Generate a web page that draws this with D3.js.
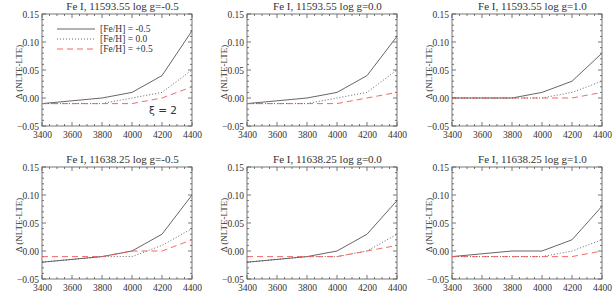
<!DOCTYPE html>
<html>
<head>
<meta charset="utf-8">
<script src="https://cdn.jsdelivr.net/npm/d3@7"></script>
<style>
  body { margin: 0; background: #fff; }
  svg { display: block; }
</style>
</head>
<body>
<svg id="chart" width="614" height="307"></svg>
<script>
'use strict';

// effective temperatures on the x axis
const teff = [3400, 3600, 3800, 4000, 4200, 4400];
const xTicks = [3400, 3600, 3800, 4000, 4200, 4400];
const yTicks = [-0.05, 0.00, 0.05, 0.10, 0.15];

const titles = [
  'Fe I, 11593.55 log g=-0.5', 'Fe I, 11593.55 log g=0.0', 'Fe I, 11593.55 log g=1.0',
  'Fe I, 11638.25 log g=-0.5', 'Fe I, 11638.25 log g=0.0', 'Fe I, 11638.25 log g=1.0'
];

const legendLabels = ['[Fe/H] = -0.5', '[Fe/H] = 0.0', '[Fe/H] = +0.5'];

// Δ(NLTE-LTE) per panel, for [Fe/H] = -0.5, 0.0, +0.5
const feM05 = [
  [-0.01, -0.005, 0.00, 0.01, 0.04, 0.12],
  [-0.01, -0.005, 0.00, 0.01, 0.04, 0.11],
  [0.00, 0.00, 0.00, 0.01, 0.03, 0.08],
  [-0.02, -0.015, -0.01, 0.00, 0.03, 0.10],
  [-0.02, -0.015, -0.01, 0.00, 0.03, 0.09],
  [-0.01, -0.005, 0.00, 0.00, 0.02, 0.08]
];
const fe00 = [
  [-0.01, -0.01, -0.01, 0.00, 0.01, 0.05],
  [-0.01, -0.01, -0.01, 0.00, 0.01, 0.05],
  [0.00, 0.00, 0.00, 0.00, 0.01, 0.03],
  [-0.02, -0.015, -0.01, -0.01, 0.01, 0.04],
  [-0.02, -0.015, -0.01, -0.01, 0.00, 0.03],
  [-0.01, -0.01, -0.01, -0.01, 0.00, 0.02]
];
const feP05 = [
  [-0.01, -0.01, -0.01, -0.01, 0.00, 0.02],
  [-0.01, -0.01, -0.01, -0.01, 0.00, 0.01],
  [0.00, 0.00, 0.00, 0.00, 0.00, 0.01],
  [-0.01, -0.01, -0.01, 0.00, 0.00, 0.02],
  [-0.01, -0.01, -0.01, -0.01, 0.00, 0.01],
  [-0.01, -0.01, -0.01, -0.01, -0.01, 0.00]
];

const series = [feM05, fe00, feP05];
const styles = [
  { stroke: '#555', dash: null },
  { stroke: '#555', dash: '1,2' },
  { stroke: '#f05a5a', dash: '6,4' }
];

// panel frames
const lefts = [42, 247, 452],
      tops = [14, 167],
      width = 150,
      height = 112;

const serif = 'Liberation Serif';

const svg = d3.select('#chart');

titles.forEach((title, i) => {
  const col = i % 3, row = Math.floor(i / 3);

  const g = svg.append('g')
     .attr('transform', `translate(${lefts[col]}, ${tops[row]})`);

  const x = d3.scaleLinear().domain([3400, 4400]).range([0, width]);
  const y = d3.scaleLinear().domain([-0.05, 0.15]).range([height, 0]);

  // minor ticks on all four sides, IDL style
  const xMinor = d3.range(3400, 4401, 50);
  const yMinor = d3.range(-5, 16).map(v => v / 100);

  const tickGroup = g.append('g').attr('stroke', '#555').attr('stroke-width', 0.8);
  xMinor.forEach(v => {
    const len = xTicks.includes(v) ? 4 : 2;
    tickGroup.append('line').attr('x1', x(v)).attr('x2', x(v)).attr('y1', height).attr('y2', height - len);
    tickGroup.append('line').attr('x1', x(v)).attr('x2', x(v)).attr('y1', 0).attr('y2', len);
  });
  yMinor.forEach(v => {
    const len = Math.round(v * 100) % 5 === 0 ? 4 : 2;
    tickGroup.append('line').attr('y1', y(v)).attr('y2', y(v)).attr('x1', 0).attr('x2', len);
    tickGroup.append('line').attr('y1', y(v)).attr('y2', y(v)).attr('x1', width).attr('x2', width - len);
  });

  // axis labels
  const xAxis = d3.axisBottom(x).tickValues(xTicks).tickSize(0).tickPadding(5).tickFormat(d3.format('d'));
  const yAxis = d3.axisLeft(y).tickValues(yTicks).tickSize(0).tickPadding(3).tickFormat(d3.format('.2f'));

  g.append('g')
     .attr('transform', `translate(0, ${height})`)
     .call(xAxis)
     .attr('font-family', serif)
     .attr('font-size', 9.5)
     .call(a => a.select('.domain').remove())
     .selectAll('text')
       .attr('fill', '#333');

  g.append('g')
     .call(yAxis)
     .attr('font-family', serif)
     .attr('font-size', 9.5)
     .call(a => a.select('.domain').remove())
     .selectAll('text')
       .attr('fill', '#333');

  g.append('rect')
     .attr('width', width)
     .attr('height', height)
     .attr('fill', 'none')
     .attr('stroke', '#555')
     .attr('stroke-width', 0.8);

  const line = d3.line().x((d, k) => x(teff[k])).y(d => y(d));

  series.forEach((s, k) => {
    g.append('path')
       .datum(s[i])
       .attr('d', line)
       .attr('fill', 'none')
       .attr('stroke', styles[k].stroke)
       .attr('stroke-width', 0.9)
       .attr('stroke-dasharray', styles[k].dash);
  });

  g.append('text')
     .attr('x', width / 2 + 5.5)
     .attr('y', -4.5)
     .attr('text-anchor', 'middle')
     .attr('font-family', serif)
     .attr('font-size', 11)
     .attr('fill', '#333')
     .text(title);

  g.append('text')
     .attr('transform', `translate(-20.5, ${height / 2 + 2}) rotate(-90)`)
     .attr('text-anchor', 'middle')
     .attr('font-family', serif)
     .attr('font-size', 9)
     .attr('fill', '#333')
     .text('Δ (NLTE-LTE)');

  if (i === 0) {
    const leg = g.append('g');
    legendLabels.forEach((lab, k) => {
      const ly = 15 + k * 10;
      leg.append('line')
         .attr('x1', 15).attr('x2', 53)
         .attr('y1', ly).attr('y2', ly)
         .attr('stroke', styles[k].stroke)
         .attr('stroke-width', 0.9)
         .attr('stroke-dasharray', styles[k].dash);
      leg.append('text')
         .attr('x', 58)
         .attr('y', ly + 3)
         .attr('font-family', serif)
         .attr('font-size', 9.5)
         .attr('fill', '#333')
         .text(lab);
    });
    g.append('text')
       .attr('x', 107)
       .attr('y', 100)
       .attr('font-family', 'DejaVu Sans')
       .attr('font-size', 10.5)
       .attr('fill', '#333')
       .text('ξ = 2');
  }
});
</script>
</body>
</html>
